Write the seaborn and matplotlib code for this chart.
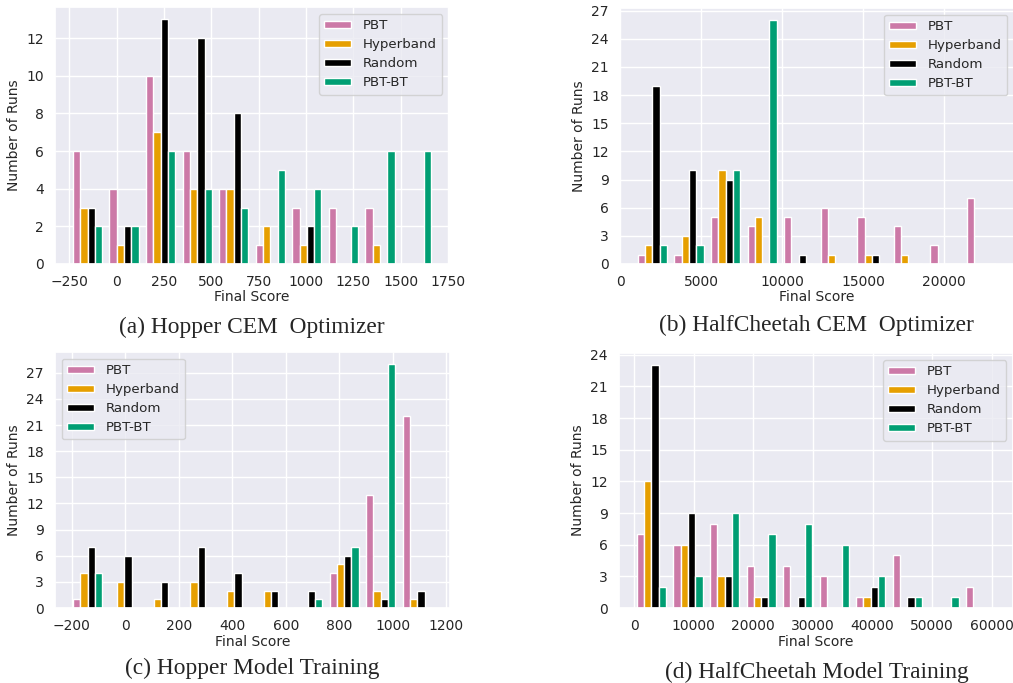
import numpy as np
import matplotlib
matplotlib.use("Agg")
import matplotlib.pyplot as plt
import seaborn as sns

# methods and colours
methods = ["PBT", "Hyperband", "Random", "PBT-BT"]
colors = ["#CC79A7", "#E69F00", "#000000", "#009E73"]

# (a) Hopper CEM Optimizer : 10 bins, counts per method
a_range = (-250, 1680)
a_pbt = [6, 4, 10, 6, 4, 1, 3, 3, 3, 0]
a_hyp = [3, 1, 7, 4, 4, 2, 1, 0, 1, 0]
a_rand = [3, 2, 13, 12, 8, 0, 2, 0, 0, 0]
a_bt = [2, 2, 6, 4, 3, 5, 4, 2, 6, 6]

# (b) HalfCheetah CEM Optimizer
b_range = (860, 23450)
b_pbt = [1, 1, 5, 4, 5, 6, 5, 4, 2, 7]
b_hyp = [2, 3, 10, 5, 0, 1, 1, 1, 0, 0]
b_rand = [19, 10, 9, 0, 1, 0, 1, 0, 0, 0]
b_bt = [2, 2, 10, 26, 0, 0, 0, 0, 0, 0]

# (c) Hopper Model Training
c_range = (-209, 1161)
c_pbt = [1, 0, 0, 0, 0, 0, 0, 4, 13, 22]
c_hyp = [4, 3, 1, 3, 2, 2, 0, 5, 2, 1]
c_rand = [7, 6, 3, 7, 4, 2, 2, 6, 1, 2]
c_bt = [4, 0, 0, 0, 0, 0, 1, 7, 28, 0]

# (d) HalfCheetah Model Training
d_range = (-167, 61183)
d_pbt = [7, 6, 8, 4, 4, 3, 1, 5, 0, 2]
d_hyp = [12, 6, 3, 1, 0, 0, 1, 0, 0, 0]
d_rand = [23, 9, 3, 1, 1, 0, 2, 1, 0, 0]
d_bt = [2, 3, 9, 7, 8, 6, 3, 1, 1, 0]

panels = [
    ("(a) Hopper CEM  Optimizer", a_range, [a_pbt, a_hyp, a_rand, a_bt], np.arange(0, 13, 2), "upper right"),
    ("(b) HalfCheetah CEM  Optimizer", b_range, [b_pbt, b_hyp, b_rand, b_bt], np.arange(0, 28, 3), "upper right"),
    ("(c) Hopper Model Training", c_range, [c_pbt, c_hyp, c_rand, c_bt], np.arange(0, 28, 3), "upper left"),
    ("(d) HalfCheetah Model Training", d_range, [d_pbt, d_hyp, d_rand, d_bt], np.arange(0, 25, 3), "upper right"),
]

sns.set_theme(style="darkgrid")

fig = plt.figure(figsize=(10.13, 6.83), dpi=100)
positions = [
    [0.0543, 0.6135, 0.389, 0.376],
    [0.612, 0.6135, 0.389, 0.375],
    [0.0543, 0.1098, 0.390, 0.375],
    [0.611, 0.1098, 0.389, 0.373],
]
captions_xy = [(0.249, 0.52), (0.806, 0.524), (0.249, 0.022), (0.806, 0.016)]

for (titre, rng, counts, yticks, loc), pos, cxy in zip(panels, positions, captions_xy):
    ax = fig.add_axes(pos)
    edges = np.linspace(rng[0], rng[1], 11)
    centres = (edges[:-1] + edges[1:]) / 2
    ax.hist([centres] * 4, bins=edges, weights=counts, color=colors, label=methods,
            edgecolor="white", linewidth=1)
    ax.set_yticks(yticks)
    ax.tick_params(labelsize=10, pad=2)
    ax.set_xlabel("Final Score", fontsize=10, labelpad=1)
    ax.set_ylabel("Number of Runs", fontsize=10, labelpad=4)
    ax.legend(loc=loc, fontsize=9.6, handleheight=0.45, labelspacing=0.45,
              handletextpad=0.9)
    fig.text(cxy[0], cxy[1], titre, ha="center", va="center", fontsize=16.8,
             family=["Liberation Serif", "DejaVu Serif"])

fig.savefig("out.png", dpi=100)
